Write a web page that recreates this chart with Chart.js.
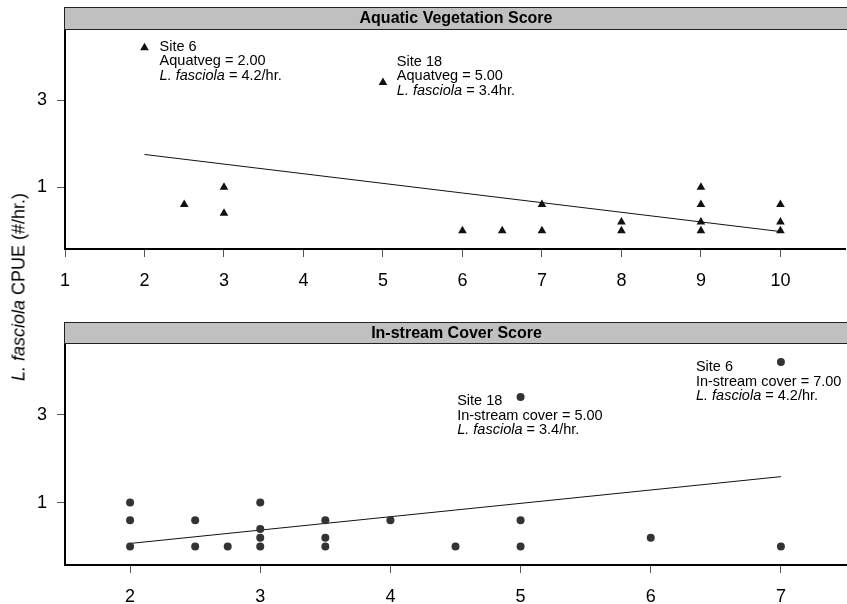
<!DOCTYPE html>
<html>
<head>
<meta charset="utf-8">
<script src="https://cdn.jsdelivr.net/npm/chart.js@4.4.0/dist/chart.umd.min.js"></script>
<style>
html, body { margin:0; padding:0; background:#fff; overflow:hidden; width:847px; height:604px; }
#top { position:absolute; left:0; top:0; }
#bottom { position:absolute; left:0; top:300px; }
#ylab { position:absolute; left:19px; top:287px; transform:translate(-50%,-50%) rotate(-90deg);
        white-space:nowrap; font:18px "Liberation Sans", Arial, sans-serif; color:#000; }
</style>
</head>
<body>
<canvas id="top" width="850" height="300"></canvas>
<canvas id="bottom" width="850" height="310"></canvas>
<div id="ylab"><i>L. fasciola</i> CPUE (#/hr.)</div>
<script>
// top panel: aquatic vegetation score
var aquaX = [2, 2.5, 3, 3, 5, 6, 6.5, 7, 7, 8, 8, 9, 9, 9, 9, 10, 10, 10];
var aquaY = [4.2, 0.6, 1.0, 0.4, 3.4, 0, 0, 0.6, 0, 0.2, 0, 1.0, 0.6, 0.2, 0, 0.6, 0.2, 0];
var aquaFitX = [2, 10];
var aquaFitY = [1.75, -0.02];
var aquaTicks = [1, 2, 3, 4, 5, 6, 7, 8, 9, 10];
var aquaNoteX = [2.19, 5.175];
var aquaNoteY = [4.225, 3.88];
var aquaNoteText = [
  ['Site 6', 'Aquatveg = 2.00', ' = 4.2/hr.'],
  ['Site 18', 'Aquatveg = 5.00', ' = 3.4hr.']
];

// bottom panel: in-stream cover score
var coverX = [2, 2, 2, 2.5, 2.5, 2.75, 3, 3, 3, 3, 3.5, 3.5, 3.5, 4, 4.5, 5, 5, 5, 6, 7, 7];
var coverY = [1.0, 0.6, 0, 0.6, 0, 0, 1.0, 0.4, 0.2, 0, 0.6, 0.2, 0, 0.6, 0, 3.4, 0.6, 0, 0.2, 4.2, 0];
var coverFitX = [2, 7];
var coverFitY = [0.07, 1.59];
var coverTicks = [2, 3, 4, 5, 6, 7];
var coverNoteX = [4.513, 6.347];
var coverNoteY = [3.3, 4.08];
var coverNoteText = [
  ['Site 18', 'In-stream cover = 5.00', ' = 3.4/hr.'],
  ['Site 6', 'In-stream cover = 7.00', ' = 4.2/hr.']
];

var yTicks = [1, 3];
var species = 'L. fasciola';
var FONT = '"Liberation Sans", Arial, sans-serif';

function pts(xs, ys) {
  return xs.map(function (x, i) { return { x: x, y: ys[i] }; });
}

var panelDeco = {
  id: 'panelDeco',
  afterDraw: function (chart, args, o) {
    var ctx = chart.ctx, a = chart.chartArea;
    ctx.save();
    // strip
    ctx.fillStyle = '#c0c0c0';
    ctx.fillRect(a.left, o.stripTop, a.right - a.left + 5, a.top - o.stripTop);
    ctx.strokeStyle = '#222';
    ctx.lineWidth = 1;
    ctx.strokeRect(a.left - 0.5, o.stripTop + 0.5, a.right - a.left + 10, a.top - o.stripTop);
    ctx.fillStyle = '#000';
    ctx.font = 'bold 16px ' + FONT;
    ctx.textAlign = 'center';
    ctx.textBaseline = 'middle';
    ctx.fillText(o.title, (a.left + a.right) / 2 + 1, (o.stripTop + a.top) / 2 + 1);
    // site notes
    var sx = chart.scales.x, sy = chart.scales.y;
    ctx.textAlign = 'left';
    for (var i = 0; i < o.noteX.length; i++) {
      var px = sx.getPixelForValue(o.noteX[i]);
      var py = sy.getPixelForValue(o.noteY[i]);
      var t = o.noteText[i];
      ctx.font = '14.5px ' + FONT;
      ctx.fillText(t[0], px, py);
      ctx.fillText(t[1], px, py + 14.5);
      ctx.font = 'italic 14.5px ' + FONT;
      ctx.fillText(species, px, py + 29);
      var w = ctx.measureText(species).width;
      ctx.font = '14.5px ' + FONT;
      ctx.fillText(t[2], px + w, py + 29);
    }
    ctx.restore();
  }
};

function makePanel(id, cfg) {
  return new Chart(document.getElementById(id), {
    type: 'scatter',
    data: {
      datasets: [{
        data: pts(cfg.x, cfg.y),
        pointStyle: cfg.marker,
        pointRadius: cfg.radius,
        pointBackgroundColor: cfg.color,
        pointBorderWidth: 0,
        showLine: false
      }, {
        type: 'line',
        data: pts(cfg.fitX, cfg.fitY),
        borderColor: '#111',
        borderWidth: 1,
        pointRadius: 0,
        fill: false
      }]
    },
    options: {
      responsive: false,
      animation: false,
      layout: { padding: { top: cfg.padTop, right: 0, left: 0, bottom: 0 } },
      plugins: {
        legend: { display: false },
        tooltip: { enabled: false },
        panelDeco: { title: cfg.title, stripTop: cfg.stripTop, noteX: cfg.noteX, noteY: cfg.noteY, noteText: cfg.noteText }
      },
      scales: {
        x: {
          type: 'linear',
          min: cfg.xmin,
          max: cfg.xmax,
          afterBuildTicks: function (s) { s.ticks = cfg.ticks.map(function (v) { return { value: v }; }); },
          afterFit: function (s) { s.height = cfg.xAxisH; },
          grid: { drawOnChartArea: false, tickLength: 8, tickColor: '#555', tickWidth: 1 },
          border: { color: '#000', width: 2 },
          ticks: { color: '#000', font: { family: FONT, size: 18 }, padding: 13, maxRotation: 0, autoSkip: false }
        },
        y: {
          type: 'linear',
          min: -0.42,
          max: 4.63,
          afterBuildTicks: function (s) { s.ticks = yTicks.map(function (v) { return { value: v }; }); },
          afterFit: function (s) { s.width = 65; },
          grid: { drawOnChartArea: false, tickLength: 8, tickColor: '#555', tickWidth: 1 },
          border: { color: '#000', width: 2 },
          ticks: { color: '#000', font: { family: FONT, size: 18 }, padding: 10 }
        }
      }
    },
    plugins: [panelDeco]
  });
}

makePanel('top', {
  x: aquaX, y: aquaY, fitX: aquaFitX, fitY: aquaFitY, ticks: aquaTicks,
  xmin: 1, xmax: 10.8125, marker: 'triangle', radius: 5, color: '#111',
  title: 'Aquatic Vegetation Score', stripTop: 7, padTop: 29, xAxisH: 51,
  noteX: aquaNoteX, noteY: aquaNoteY, noteText: aquaNoteText
});

makePanel('bottom', {
  x: coverX, y: coverY, fitX: coverFitX, fitY: coverFitY, ticks: coverTicks,
  xmin: 1.5, xmax: 7.5, marker: 'circle', radius: 4, color: '#333',
  title: 'In-stream Cover Score', stripTop: 22, padTop: 43, xAxisH: 45,
  noteX: coverNoteX, noteY: coverNoteY, noteText: coverNoteText
});
</script>
</body>
</html>
